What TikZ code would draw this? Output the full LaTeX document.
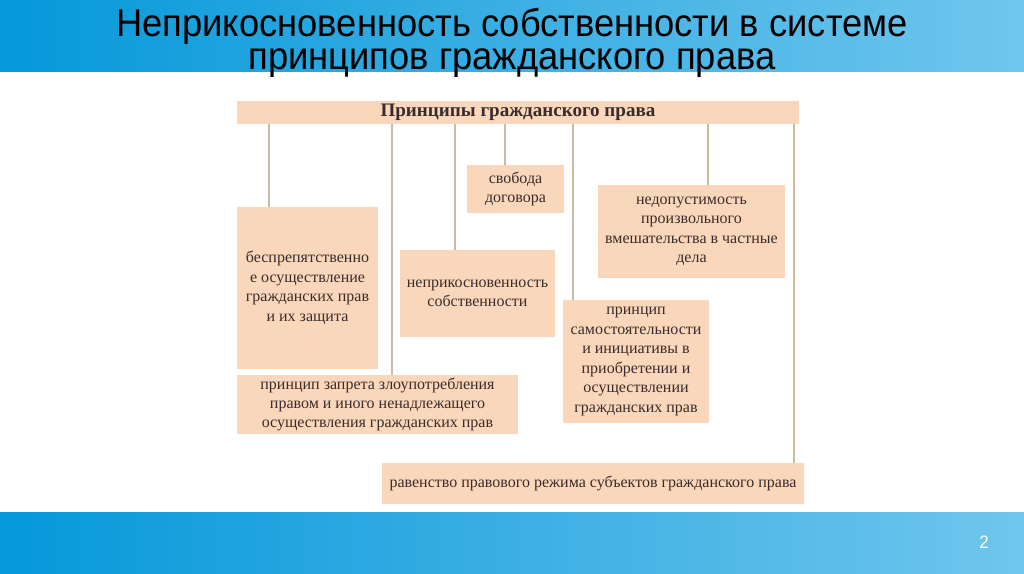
\documentclass[tikz,border=0pt]{standalone}
\usepackage{fontspec}
\setmainfont{Liberation Serif}
\newfontfamily\titlefont[FakeStretch=0.94]{Liberation Sans}
\usepackage{tikz}
\definecolor{bandL}{RGB}{5,152,218}
\definecolor{bandR}{RGB}{112,198,237}
\definecolor{pfill}{RGB}{250,214,186}
\definecolor{pline}{RGB}{204,188,156}
\definecolor{ptext}{RGB}{58,44,44}
\newcommand\pxu{0.75pt}
\tikzset{
  pbox/.style={fill=pfill, draw=none, align=center, inner sep=2pt,
    text=ptext, font=\fontsize{12}{14.6}\selectfont},
  plink/.style={draw=pline, line width=1.1pt}
}

\begin{document}
\begin{tikzpicture}[x=0.75pt,y=-0.75pt]
  \fill[white] (0,0) rectangle (1024,574);
  \useasboundingbox (0,0) rectangle (1024,574);
  % bands
  \shade[left color=bandL, right color=bandR] (0,0) rectangle (1024,72);
  \shade[left color=bandL, right color=bandR] (0,512) rectangle (1024,574);
  \node[font=\titlefont\fontsize{29}{24.8}\selectfont, align=center, anchor=base] (ttl) at (512,70)
    {Неприкосновенность собственности в системе\\принципов гражданского права};
  \node[text=white, font=\titlefont\fontsize{13.5}{14}\selectfont] (pg) at (984,542) {2};
  % boxes
  \node[pbox, minimum width=562*\pxu, minimum height=23*\pxu, font=\bfseries\fontsize{14.3}{15}\selectfont] (head) at (518,112.5) {Принципы гражданского права};
  \node[pbox, minimum width=141*\pxu, minimum height=162*\pxu] (bpr) at (307.5,288)
    {беспрепятственно\\е осуществление\\гражданских прав\\и их защита};
  \node[pbox, minimum width=97*\pxu, minimum height=48*\pxu] (svob) at (515.5,189) {свобода\\договора};
  \node[pbox, minimum width=155*\pxu, minimum height=87*\pxu] (nepr) at (477.5,293.5) {неприкосновенность\\собственности};
  \node[pbox, minimum width=187*\pxu, minimum height=93*\pxu] (nedop) at (691.5,231.5)
    {недопустимость\\произвольного\\вмешательства в частные\\дела};
  \node[pbox, minimum width=146*\pxu, minimum height=123*\pxu] (samost) at (636,361.5)
    {принцип\\самостоятельности\\и инициативы в\\приобретении и\\осуществлении\\гражданских прав};
  \node[pbox, minimum width=281*\pxu, minimum height=55*\pxu] (zapr) at (377.5,404.5)
    {принцип запрета злоупотребления\\правом и иного ненадлежащего\\осуществления гражданских прав};
  \node[pbox, minimum width=422*\pxu, minimum height=41*\pxu] (rav) at (593,483.5)
    {равенство правового режима субъектов гражданского права};
  % links
  \foreach \x/\t [count=\i] in {269/bpr, 392/zapr, 455/nepr, 505/svob, 573/samost, 708/nedop, 794/rav} {
    \coordinate (c\i) at (\x,0);
    \draw[plink] (head.south -| c\i) -- (\t.north -| c\i);
  }
\end{tikzpicture}
\end{document}
